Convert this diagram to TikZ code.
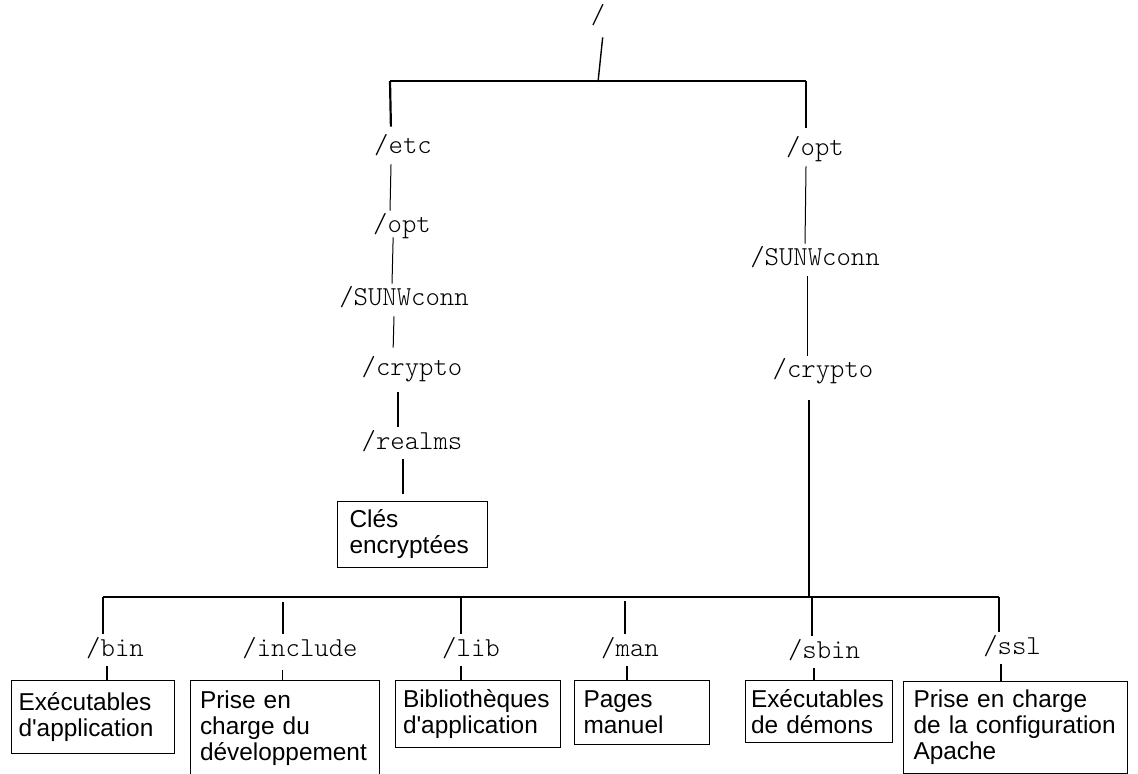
\documentclass[tikz,border=0pt]{standalone}
\usepackage{fontspec}
\setsansfont{Liberation Sans}
\setmonofont{Latin Modern Mono Light}
\tikzset{
  dirlabel/.style={font=\ttfamily\fontsize{13.7}{15}\selectfont, inner xsep=1pt, inner ysep=3pt, text height=8pt, text depth=2pt},
  leafbox/.style={draw, line width=0.5pt, anchor=north west, inner sep=0pt, align=left, font=\sffamily\fontsize{12.2}{13}\selectfont},
  thinlink/.style={line width=0.5pt},
  boldlink/.style={line width=1.1pt}
}
\begin{document}
\begin{tikzpicture}[x=0.5pt, y=-0.5pt]
\useasboundingbox[fill=white] (0,0) rectangle (1138,774);
\node[dirlabel] (root) at (598,18) {/};
\node[dirlabel] (etcL) at (403,148) {/etc};
\node[dirlabel] (optL) at (402,227) {/opt};
\node[dirlabel] (sunwL) at (404,300) {/SUNWconn};
\node[dirlabel] (cryptoL) at (412,370) {/crypto};
\node[dirlabel] (realms) at (412,443) {/realms};
\node[dirlabel] (optR) at (815,150) {/opt};
\node[dirlabel] (sunwR) at (815,260) {/SUNWconn};
\node[dirlabel] (cryptoR) at (823,372) {/crypto};
\node[dirlabel] (binL) at (115,650) {/bin};
\node[dirlabel] (incL) at (300,650) {/include};
\node[dirlabel] (libL) at (471,650) {/lib};
\node[dirlabel] (manL) at (630,650) {/man};
\node[dirlabel] (sbinL) at (824,652) {/sbin};
\node[dirlabel] (sslL) at (1012,648) {/ssl};
\node[leafbox, minimum width=75pt, minimum height=33pt, text width=63pt] (clebox) at (337,501) {Clés\\encryptées};
\node[leafbox, minimum width=81.5pt, minimum height=36.5pt, text width=74.5pt] (binbox) at (11,680) {Exécutables\\d\textquotesingle{}application};
\node[leafbox, minimum width=94.5pt, minimum height=48pt, text width=85pt] (incbox) at (190,680) {Prise en\\charge du\\développement};
\node[leafbox, minimum width=82.5pt, minimum height=33.5pt, text width=75pt] (libbox) at (395,680) {Bibliothèques\\d\textquotesingle{}application};
\node[leafbox, minimum width=67.5pt, minimum height=32pt, text width=58.5pt] (manbox) at (574,680) {Pages\\manuel};
\node[leafbox, minimum width=73.5pt, minimum height=31pt, text width=68pt] (sbinbox) at (745,680) {Exécutables\\de démons};
\node[leafbox, minimum width=112pt, minimum height=46pt, text width=102pt] (sslbox) at (903,681) {Prise en charge\\de la configuration\\Apache};
\coordinate (rootjoin) at (598,82);
\coordinate (etcjoin) at (390,81);
\coordinate (optjoin) at (806,81);
\coordinate (busL) at (103,597);
\coordinate (busR) at (999,597);
\draw[line width=0.7pt, shorten <=1.5pt] ([xshift=2.5pt]root.south) -- (rootjoin);
\draw[line width=0.8pt] (etcjoin) -- (optjoin);
\draw[boldlink, shorten >=2.5pt] (etcjoin) -- ([xshift=-6pt]etcL.north);
\draw[boldlink, shorten >=3pt] (optjoin) -- ([xshift=-4.5pt]optR.north);
\draw[thinlink] ([xshift=-6pt]etcL.south) -- ([xshift=-6pt]optL.north);
\draw[thinlink, shorten <=-3pt] ([xshift=-4.5pt]optL.south) -- ([xshift=-6pt]sunwL.north);
\draw[thinlink, shorten >=3pt] ([xshift=-5pt]sunwL.south) -- ([xshift=-9.5pt]cryptoL.north);
\draw[boldlink, shorten <=3pt] ([xshift=-7pt]cryptoL.south) -- ([xshift=-7pt]realms.north);
\draw[boldlink, shorten >=3.5pt] ([xshift=-4.5pt]realms.south) -- ([xshift=-4.5pt]realms.south |- clebox.north);
\draw[thinlink] ([xshift=-4.5pt]optR.south) -- ([xshift=-5pt]sunwR.north);
\draw[thinlink] ([xshift=-4pt]sunwR.south) -- ([xshift=-8pt]cryptoR.north);
\draw[boldlink, shorten <=6pt] ([xshift=-7pt]cryptoR.south) -- ([xshift=-7pt]cryptoR.south |- busL);
\draw[boldlink] (busL) -- (busR);
\draw[boldlink] (busL) -- ([xshift=-6pt]binL.north);
\draw[boldlink, shorten <=2.5pt] ([xshift=-8.5pt]incL.north |- busL) -- ([xshift=-8.5pt]incL.north);
\draw[boldlink] ([xshift=-5pt]libL.north |- busL) -- ([xshift=-5pt]libL.north);
\draw[boldlink, shorten <=2pt] ([xshift=-2.5pt]manL.north |- busL) -- ([xshift=-2.5pt]manL.north);
\draw[boldlink] ([xshift=-6pt]sbinL.north |- busL) -- ([xshift=-6pt]sbinL.north);
\draw[boldlink] (busR) -- ([xshift=-6.5pt]sslL.north);
\draw[boldlink] ([xshift=-4pt]binL.south) -- ([xshift=-4pt]binL.south |- binbox.north);
\draw[thinlink, shorten <=2pt] ([xshift=-9pt]incL.south) -- ([xshift=-9pt]incL.south |- incbox.north);
\draw[boldlink] ([xshift=-5pt]libL.south) -- ([xshift=-5pt]libL.south |- libbox.north);
\draw[boldlink] ([xshift=-1.5pt]manL.south) -- ([xshift=-1.5pt]manL.south |- manbox.north);
\draw[boldlink] ([xshift=-5pt]sbinL.south) -- ([xshift=-5pt]sbinL.south |- sbinbox.north);
\draw[boldlink] ([xshift=-5.5pt]sslL.south) -- ([xshift=-5.5pt]sslL.south |- sslbox.north);
\end{tikzpicture}
\end{document}
